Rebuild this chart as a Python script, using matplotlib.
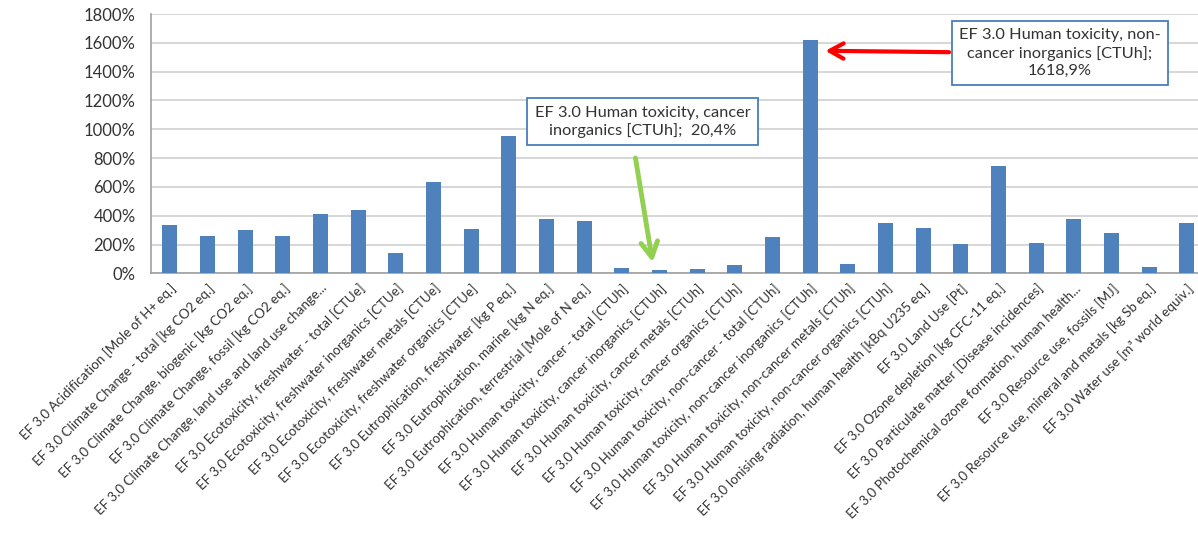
import numpy as np
import matplotlib.pyplot as plt

# Categorias de impacto (EF 3.0) e valores relativos em %
categorias = [
    "EF 3.0 Acidification [Mole of H+ eq.]",
    "EF 3.0 Climate Change - total [kg CO2 eq.]",
    "EF 3.0 Climate Change, biogenic [kg CO2 eq.]",
    "EF 3.0 Climate Change, fossil [kg CO2 eq.]",
    "EF 3.0 Climate Change, land use and land use change...",
    "EF 3.0 Ecotoxicity, freshwater - total [CTUe]",
    "EF 3.0 Ecotoxicity, freshwater inorganics [CTUe]",
    "EF 3.0 Ecotoxicity, freshwater metals [CTUe]",
    "EF 3.0 Ecotoxicity, freshwater organics [CTUe]",
    "EF 3.0 Eutrophication, freshwater [kg P eq.]",
    "EF 3.0 Eutrophication, marine [kg N eq.]",
    "EF 3.0 Eutrophication, terrestrial [Mole of N eq.]",
    "EF 3.0 Human toxicity, cancer - total [CTUh]",
    "EF 3.0 Human toxicity, cancer inorganics [CTUh]",
    "EF 3.0 Human toxicity, cancer metals [CTUh]",
    "EF 3.0 Human toxicity, cancer organics [CTUh]",
    "EF 3.0 Human toxicity, non-cancer - total [CTUh]",
    "EF 3.0 Human toxicity, non-cancer inorganics [CTUh]",
    "EF 3.0 Human toxicity, non-cancer metals [CTUh]",
    "EF 3.0 Human toxicity, non-cancer organics [CTUh]",
    "EF 3.0 Ionising radiation, human health [kBq U235 eq.]",
    "EF 3.0 Land Use [Pt]",
    "EF 3.0 Ozone depletion [kg CFC-11 eq.]",
    "EF 3.0 Particulate matter [Disease incidences]",
    "EF 3.0 Photochemical ozone formation, human health...",
    "EF 3.0 Resource use, fossils [MJ]",
    "EF 3.0 Resource use, mineral and metals [kg Sb eq.]",
    "EF 3.0 Water use [m\u00b3 world equiv.]",
]

valores = [
    333, 259, 303, 259, 410, 440, 141, 636, 310, 953,
    377, 365, 39, 20.4, 32, 58, 250, 1618.9, 62, 347,
    317, 203, 747, 210, 377, 280, 46, 347,
]

yticks = [0, 200, 400, 600, 800, 1000, 1200, 1400, 1600, 1800]

# indices das categorias destacadas
idx_cancer_inorg = 13
idx_noncancer_inorg = 17

cor_barra = '#4f81bd'
cor_texto = '#333333'
fonte = ['Lato', 'DejaVu Sans']

plt.rcParams['font.family'] = fonte

fig = plt.figure(figsize=(11.98, 5.35), dpi=100)
ax = fig.add_axes([0.126, 0.489, 0.8804, 0.4848])

x = np.arange(len(categorias))
ax.bar(x, valores, width=0.4, color=cor_barra, zorder=3)

ax.set_xlim(-0.5, len(categorias) - 0.5)
ax.set_ylim(0, 1800)
ax.set_yticks(yticks)
ax.set_yticklabels([f'{v}%' for v in yticks], fontsize=12, color=cor_texto)
ax.yaxis.grid(True, color='#d0d0d0', linewidth=1.2, zorder=0)

ax.set_xticks(x)
ax.set_xticklabels(categorias, rotation=45, ha='right', va='top',
                   rotation_mode='anchor', fontsize=9.6, color=cor_texto)

for lado in ['top', 'right']:
    ax.spines[lado].set_visible(False)
for lado in ['left', 'bottom']:
    ax.spines[lado].set_color('#a0a0a0')
    ax.spines[lado].set_linewidth(1.2)
ax.tick_params(axis='both', length=0)
ax.tick_params(axis='y', pad=11)
ax.tick_params(axis='x', pad=6)

caixa = dict(boxstyle='square,pad=0.45', fc='white', ec='#4a7ebb', lw=1.3)

# Destaque: cancer inorganics
ax.text(idx_cancer_inorg - 0.45, 1052,
        'EF 3.0 Human toxicity, cancer\ninorganics [CTUh];  20,4%',
        ha='center', va='center', fontsize=11.8, color=cor_texto,
        linespacing=1.3, bbox=caixa, zorder=5)
ax.annotate('', xy=(idx_cancer_inorg - 0.17, valores[idx_cancer_inorg] + 38),
            xytext=(idx_cancer_inorg - 0.65, 820),
            arrowprops=dict(arrowstyle='->,head_length=1.1,head_width=0.6',
                            color='#92d050', lw=3.5), zorder=6)

# Destaque: non-cancer inorganics
ax.text(idx_noncancer_inorg + 6.63, 1529,
        'EF 3.0 Human toxicity, non-\ncancer inorganics [CTUh];\n1618,9%',
        ha='center', va='center', fontsize=11.8, color=cor_texto,
        linespacing=1.3, bbox=caixa, zorder=5)
ax.annotate('', xy=(idx_noncancer_inorg + 0.33, valores[idx_noncancer_inorg] - 74),
            xytext=(idx_noncancer_inorg + 3.76, valores[idx_noncancer_inorg] - 84),
            arrowprops=dict(arrowstyle='->,head_length=1.0,head_width=0.55',
                            color='#ff0000', lw=3), zorder=6)

fig.savefig('out.png', dpi=100)
